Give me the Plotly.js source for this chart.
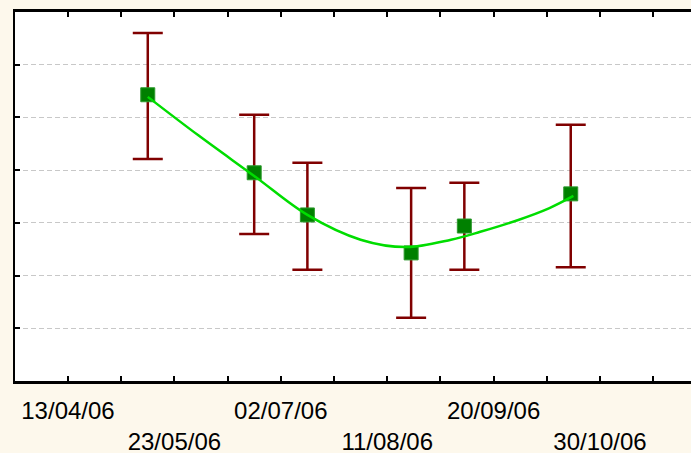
<!DOCTYPE html>
<html>
<head>
<meta charset="utf-8">
<script src="https://cdn.plot.ly/plotly-3.0.1.min.js"></script>
<style>
html,body{margin:0;padding:0;background:#FDF8EC;overflow:hidden;}
#chart{width:691px;height:453px;}
</style>
</head>
<body>
<div id="chart"></div>
<script>
// Sample dates and measured means with asymmetric error limits
var sampleDates = ["2006-05-13","2006-06-22","2006-07-12","2006-08-20","2006-09-09","2006-10-19"];
var meanValues  = [5.43, 3.95, 3.15, 2.43, 2.94, 3.55];
var upperValues = [6.60, 5.05, 4.14, 3.66, 3.76, 4.86];
var lowerValues = [4.21, 2.79, 2.11, 1.20, 2.11, 2.16];

// Fitted smooth curve
var curveDates  = ["2006-05-13","2006-06-01","2006-06-22","2006-07-12","2006-08-01","2006-08-18","2006-09-04","2006-09-15","2006-09-29","2006-10-11","2006-10-20"];
var curveValues = [5.39, 4.66, 3.89, 3.15, 2.68, 2.54, 2.68, 2.83, 3.05, 3.28, 3.51];

// Axis ticks and labels (two staggered rows)
var tickDates  = ["2006-04-13","2006-05-03","2006-05-23","2006-06-12","2006-07-02","2006-07-22","2006-08-11","2006-08-31","2006-09-20","2006-10-10","2006-10-30","2006-11-19"];
var tickLabels = ["13/04/06","","23/05/06","","02/07/06","","11/08/06","","20/09/06","","30/10/06",""];
var tickRows   = [1,0,2,0,1,0,2,0,1,0,2,0];
var yTicks     = [0,1,2,3,4,5,6,7];

var errPlus  = meanValues.map(function(v,i){return +(upperValues[i]-v).toFixed(3);});
var errMinus = meanValues.map(function(v,i){return +(v-lowerValues[i]).toFixed(3);});
var tickText = tickLabels.map(function(t,i){return tickRows[i]===2 ? "<br>"+t : t;});

var traces = [
  {
    x: sampleDates, y: meanValues, type: "scatter", mode: "markers",
    marker: {symbol: "square", size: 14, color: "#008000", line: {color: "#2E9A2E", width: 1}},
    error_y: {type: "data", symmetric: false, array: errPlus, arrayminus: errMinus,
              color: "#800000", thickness: 2.5, width: 15},
    hoverinfo: "skip", showlegend: false
  },
  {
    x: curveDates, y: curveValues, type: "scatter", mode: "lines",
    line: {color: "#00DD00", width: 2.5, shape: "spline", smoothing: 1},
    hoverinfo: "skip", showlegend: false
  }
];

var layout = {
  width: 691, height: 453,
  margin: {l: 15, r: 0, t: 12, b: 72, pad: 0},
  paper_bgcolor: "#FDF8EC",
  plot_bgcolor: "#FFFFFF",
  font: {family: "Liberation Sans, Arial, sans-serif", size: 24, color: "#000000"},
  xaxis: {
    type: "date",
    range: ["2006-03-24 02:00", "2006-12-03 05:00"],
    tickmode: "array", tickvals: tickDates, ticktext: tickText,
    ticks: "inside", ticklen: 5, tickwidth: 2, tickcolor: "#000000",
    ticklabelstandoff: 6,
    showline: true, linecolor: "#000000", linewidth: 3, mirror: "ticks",
    showgrid: false, zeroline: false,
    tickfont: {family: "Liberation Sans, Arial, sans-serif", size: 24, color: "#000000"},
    tickangle: 0
  },
  yaxis: {
    range: [0, 7],
    tickmode: "array", tickvals: yTicks,
    showticklabels: false,
    ticks: "inside", ticklen: 5, tickwidth: 2, tickcolor: "#000000",
    showline: true, linecolor: "#000000", linewidth: 2.5, mirror: false,
    showgrid: true, gridcolor: "#C8C8C8", gridwidth: 1, griddash: "5px,3px",
    zeroline: false
  }
};

Plotly.newPlot("chart", traces, layout, {displayModeBar: false, staticPlot: true});
</script>
</body>
</html>
